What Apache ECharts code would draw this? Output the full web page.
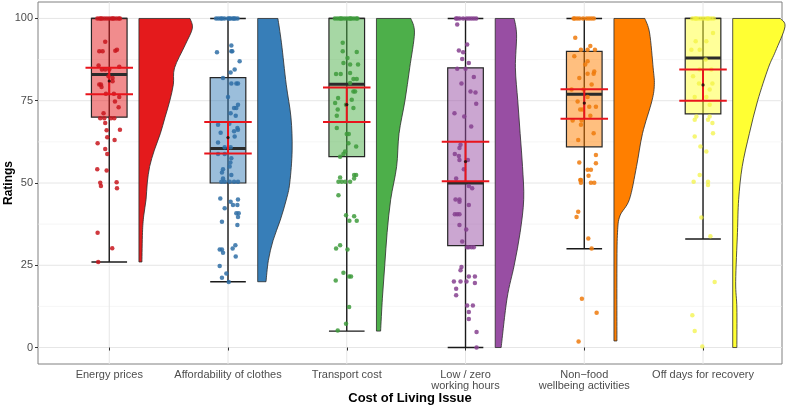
<!DOCTYPE html>
<html>
<head>
<meta charset="utf-8">
<script src="https://cdn.jsdelivr.net/npm/echarts@6/dist/echarts.min.js"></script>
<style>
  html, body { margin: 0; padding: 0; background: #fff; }
  #chart { width: 788px; height: 405px; }
</style>
</head>
<body>
<div id="chart"></div>
<script>
// ---- data ----
const categories = [
  "Energy prices",
  "Affordability of clothes",
  "Transport cost",
  "Low / zero\nworking hours",
  "Non\u2212food\nwellbeing activities",
  "Off days for recovery"
];
const colors = ["#E41A1C", "#377EB8", "#4DAF4A", "#984EA3", "#FF7F00", "#FFFF33"];
const pointColors = ["#C8161D", "#2F6FA6", "#3E9B3C", "#86418F", "#EE7A0C", "#F2F23A"];

const yTicks = [0, 25, 50, 75, 100];
const yMinor = [12.5, 37.5, 62.5, 87.5];

// [min whisker, Q1, median, Q3, max whisker]
const boxStats = [
  [26, 70, 83, 100, 100],
  [20, 50, 60.5, 82, 100],
  [5, 58, 80, 100, 100],
  [0, 31, 50, 85, 100],
  [30, 61, 77, 90, 100],
  [33, 71, 88, 100, 100]
];

// [lower CI, mean, upper CI]
const meanCI = [
  [77, 81, 85],
  [59, 63.8, 68.5],
  [68.5, 73.8, 79],
  [50.5, 56.5, 62.5],
  [69.5, 74.3, 78.5],
  [75, 79.8, 84.5]
];

// half-violin widths: [rating, width in category units]
const violins = [
  [[100,0.43],[97,0.45],[92,0.39],[85,0.30],[80,0.29],[75,0.26],[70,0.22],[65,0.18],[60,0.13],[55,0.09],[50,0.07],[45,0.06],[40,0.04],[35,0.03],[26,0.025]],
  [[100,0.17],[92.6,0.20],[80,0.24],[70,0.28],[60,0.29],[50,0.27],[44.8,0.24],[38.7,0.19],[32.6,0.13],[26.5,0.09],[20,0.07]],
  [[100,0.29],[95.6,0.32],[85,0.28],[75,0.24],[65,0.19],[55,0.17],[45,0.12],[35,0.09],[25,0.07],[15,0.05],[5,0.035]],
  [[100,0.16],[95,0.18],[85,0.17],[75,0.19],[65,0.21],[55,0.23],[45,0.24],[35,0.21],[25,0.16],[15,0.10],[0,0.05]],
  [[100,0.26],[95.6,0.30],[85,0.33],[80,0.34],[75,0.32],[65,0.24],[55,0.19],[45,0.13],[40,0.05],[35,0.03],[25,0.025],[2,0.025]],
  [[100,0.40],[97.5,0.44],[90,0.36],[85,0.30],[75,0.21],[65,0.14],[55,0.08],[45,0.05],[35,0.04],[20,0.025],[12,0.035],[0,0.035]]
];

// jittered responses: [horizontal jitter in category units, rating]
const points1 = [
  [-0.10,100],[-0.08,100],[-0.06,100],[-0.04,100],[-0.02,100],[0,100],[0.02,100],[0.04,100],[0.06,100],[0.08,100],[-0.07,100],[0.03,100],[0.09,100],
  [-0.034,92.9],[-0.084,90.0],[-0.056,90.0],[0.051,90.2],[0.065,90.5],[-0.090,85.7],[-0.062,84.5],[-0.034,84.5],[0,84.5],[0.084,85.3],
  [-0.006,82.4],[0.028,81.9],[0.028,80.9],[-0.084,79.9],[-0.070,79.9],[-0.065,79.2],[-0.028,77.1],[0.039,77.1],[0.084,76.1],[0.048,74.8],
  [0.079,73.0],[-0.048,71.2],[-0.076,69.7],[-0.042,69.7],[0.014,69.7],[0.042,69.7],[-0.034,68.2],[-0.022,66.0],[0.090,66.2],[-0.017,63.9],
  [0.045,63.1],[-0.098,62.1],[-0.034,60.3],[-0.017,58.8],[-0.101,54.2],[-0.022,53.8],[-0.076,50.1],[-0.070,49.1],[0.062,50.2],[0.065,48.4],
  [-0.098,34.9],[0.025,30.2],[-0.093,26.0]
];
const points2 = [
  [-0.10,100],[-0.08,100],[-0.06,100],[-0.03,100],[0,100],[0.02,100],[0.04,100],[0.06,100],[0.08,100],[-0.05,100],[0.01,100],[0.05,100],
  [0.028,91.8],[0.028,90.0],[0.036,90.0],[-0.093,89.7],[0.098,87.0],[0.056,84.5],[0.022,83.6],[-0.042,81.9],[0.028,80.2],[0.070,80.2],
  [0.084,80.2],[0,76.1],[0.084,73.8],[0.051,72.8],[0.070,72.8],[0.022,71.2],[0.065,70.4],[-0.084,67.7],[0.011,68.0],[0.079,66.7],
  [0.084,66.2],[-0.062,65.3],[0.051,65.7],[0.056,64.1],[-0.084,62.3],[-0.028,60.9],[0.022,60.9],[-0.084,58.8],[-0.028,58.8],[0.028,57.5],
  [0.020,56.2],[0.014,55.0],[-0.042,54.2],[-0.051,53.2],[0.028,52.4],[-0.042,51.4],[-0.056,50.4],[-0.028,50.4],[0.014,50.4],[0.051,50.4],
  [0.084,50.4],[-0.065,45.3],[0.084,45.0],[0.022,44.3],[0.042,43.3],[0.079,43.3],[-0.028,42.3],[0.070,40.8],[0.090,40.8],[0.084,39.7],
  [-0.051,38.2],[0.079,37.2],[-0.070,29.8],[-0.051,29.8],[-0.042,28.8],[0.039,30.1],[0.062,31.1],[0.065,27.7],[-0.070,24.8],[-0.014,22.5],
  [-0.051,21.2],[0.006,19.9]
];
const points3 = [
  [-0.10,100],[-0.08,100],[-0.06,100],[-0.04,100],[-0.02,100],[0,100],[0.02,100],[0.04,100],[0.06,100],[0.08,100],[-0.05,100],[0.03,100],[0.09,100],
  [-0.034,92.6],[-0.034,90.0],[0.084,89.8],[0.006,88.0],[-0.028,86.5],[0.028,86.0],[0.095,86.0],[0.028,83.4],[-0.090,83.1],[-0.051,83.1],
  [0.056,81.6],[0.084,81.6],[0.028,80.4],[0.056,77.8],[0.070,77.8],[-0.073,75.8],[0.042,75.3],[-0.098,74.3],[-0.006,73.8],[0.056,72.8],
  [-0.076,72.3],[-0.084,70.4],[-0.084,66.7],[0.017,64.9],[0,64.9],[0.014,62.1],[0.079,61.1],[-0.014,59.6],[-0.028,58.8],[-0.056,58.0],
  [0.062,52.4],[0.079,52.4],[-0.056,51.7],[0.062,51.4],[-0.070,50.4],[-0.042,50.4],[-0.014,50.4],[0.028,50.4],[-0.070,46.3],[-0.006,40.2],
  [0.062,39.9],[0.022,38.5],[0.084,38.5],[-0.056,31.1],[-0.090,30.1],[0.006,29.8],[-0.028,22.7],[0.020,21.6],[0.036,21.6],[-0.093,20.4],
  [0.020,12.3],[-0.006,7.2],[-0.076,5.2]
];
const points4 = [
  [-0.08,100],[-0.05,100],[-0.02,100],[0.01,100],[0.03,100],[0.05,100],[0.07,100],[0.09,100],[-0.07,100],
  [-0.070,98.2],[0.014,92.1],[-0.056,90.3],[-0.020,89.7],[-0.028,87.7],[0.028,86.5],[-0.070,84.7],[0,84.7],[0.070,82.2],[-0.034,80.2],
  [0.042,77.8],[0.084,77.5],[0.090,74.1],[-0.093,71.2],[-0.011,70.2],[0.048,67.2],[-0.042,61.6],[-0.051,60.6],[-0.090,58.8],[-0.056,58.2],
  [-0.051,57.0],[0.020,57.0],[-0.014,54.2],[-0.079,51.4],[0.028,49.1],[0.056,48.4],[-0.084,45.0],[-0.051,45.0],[-0.051,44.3],[0.028,43.3],
  [-0.090,40.5],[-0.070,40.5],[-0.051,40.5],[-0.051,37.2],[0.006,35.9],[-0.028,32.2],[0.014,30.5],[0.028,30.5],[0.051,30.5],[0.070,30.5],
  [-0.034,24.5],[-0.042,23.5],[0.028,21.6],[0.079,21.6],[-0.098,20.1],[-0.042,20.1],[0.008,20.1],[0.079,19.6],[-0.079,17.9],[-0.079,15.9],
  [0.014,12.8],[0.062,12.8],[0.028,10.8],[0.028,8.7],[0.093,4.7],[0.093,0]
];
const points5 = [
  [-0.08,100],[-0.06,100],[-0.04,100],[-0.01,100],[0.02,100],[0.04,100],[0.06,100],[0.08,100],[-0.09,100],
  [-0.076,94.1],[0.051,91.6],[-0.028,90.5],[0.028,90.5],[0.090,90.5],[-0.084,88.5],[0.028,87.0],[0.008,86.0],[0.084,83.9],[0.028,83.2],
  [0.079,83.2],[-0.042,81.9],[0.062,79.9],[-0.107,78.4],[-0.006,78.4],[0.028,76.1],[-0.056,74.8],[0.042,73.2],[0.098,73.2],[-0.034,72.3],
  [-0.014,72.3],[0.051,70.4],[-0.098,69.0],[-0.022,69.0],[-0.028,67.7],[0.079,65.1],[-0.051,63.1],[0.098,58.5],[-0.042,56.2],[0.098,56.0],
  [0.028,54.0],[0.056,54.0],[0.036,52.2],[-0.034,50.9],[-0.028,50.9],[-0.028,50.1],[0.056,50.1],[0.084,50.1],[-0.051,41.3],[-0.065,39.7],
  [0.034,33.1],[0.062,30.1],[-0.020,14.8],[0.104,10.6],[-0.048,1.8]
];
const points6 = [
  [-0.09,100],[-0.07,100],[-0.05,100],[-0.03,100],[-0.01,100],[0.01,100],[0.03,100],[0.05,100],[0.07,100],[0.09,100],[-0.06,100],[0.04,100],
  [0.084,95.6],[-0.062,93.1],[0.028,93.1],[-0.098,90.5],[-0.028,90.5],[0.022,87.5],[-0.028,84.5],[0.070,84.5],[-0.084,82.4],[-0.034,80.2],
  [0.079,80.2],[0.056,78.4],[-0.070,76.1],[0.028,76.1],[0.056,73.8],[-0.056,70.2],[0.056,70.2],[-0.070,69.2],[0.042,69.2],[0.079,68.2],
  [0.084,65.1],[-0.070,64.1],[-0.022,61.1],[0.028,59.6],[-0.028,52.4],[-0.079,50.4],[0.042,50.4],[0.042,49.4],[-0.014,39.5],[0.062,33.8],
  [0.098,19.9],[-0.090,9.8],[-0.070,5.0],[-0.006,0.3]
];
const pointSets = [points1, points2, points3, points4, points5, points6];

// ---- layout constants (category units) ----
const BOX_HALF = 0.15;
const CI_HALF = 0.2;
const VIOLIN_OFFSET = 0.25;

const catValues = categories.map((c, i) => i + 1);

const chart = echarts.init(document.getElementById("chart"), null, { renderer: "canvas" });

// grid lines drawn from the tick arrays
function renderGridLines(params, api) {
  const cs = params.coordSys;
  const children = [];
  yMinor.forEach(v => {
    const y = api.coord([1, v])[1];
    children.push({ type: "line", shape: { x1: cs.x, y1: y, x2: cs.x + cs.width, y2: y },
      style: { stroke: "#F0F0F0", lineWidth: 0.6 } });
  });
  yTicks.forEach(v => {
    const y = api.coord([1, v])[1];
    children.push({ type: "line", shape: { x1: cs.x, y1: y, x2: cs.x + cs.width, y2: y },
      style: { stroke: "#E6E6E6", lineWidth: 1 } });
  });
  catValues.forEach(c => {
    const x = api.coord([c, 0])[0];
    children.push({ type: "line", shape: { x1: x, y1: cs.y, x2: x, y2: cs.y + cs.height },
      style: { stroke: "#E6E6E6", lineWidth: 1 } });
  });
  return { type: "group", children };
}

// smooth half violin, flat edge on the left
function renderViolin(params, api) {
  const i = params.dataIndex;
  const c = i + 1;
  const lv = violins[i];
  const x0 = c + VIOLIN_OFFSET;
  const top = api.coord([x0, lv[0][0]]);
  const bot = api.coord([x0, lv[lv.length - 1][0]]);
  const pts = lv.map(([v, w]) => api.coord([x0 + w, v]));
  let d = `M${top[0]},${top[1]} L${pts[0][0]},${pts[0][1]}`;
  for (let k = 0; k < pts.length - 1; k++) {
    const p0 = pts[Math.max(k - 1, 0)], p1 = pts[k], p2 = pts[k + 1], p3 = pts[Math.min(k + 2, pts.length - 1)];
    const c1x = p1[0] + (p2[0] - p0[0]) / 6, c1y = p1[1] + (p2[1] - p0[1]) / 6;
    const c2x = p2[0] - (p3[0] - p1[0]) / 6, c2y = p2[1] - (p3[1] - p1[1]) / 6;
    d += ` C${c1x},${c1y} ${c2x},${c2y} ${p2[0]},${p2[1]}`;
  }
  d += ` L${bot[0]},${bot[1]} Z`;
  return {
    type: "path",
    shape: { pathData: d },
    style: { fill: colors[i], stroke: "#2b2b2b", lineWidth: 0.8 }
  };
}

function renderWhisker(params, api) {
  const i = params.dataIndex;
  const c = i + 1;
  const [lo, , , , hi] = boxStats[i];
  const a = api.coord([c, hi]), b = api.coord([c, lo]);
  const capL = api.coord([c - BOX_HALF, lo]), capR = api.coord([c + BOX_HALF, lo]);
  const capL2 = api.coord([c - BOX_HALF, hi]), capR2 = api.coord([c + BOX_HALF, hi]);
  const st = { stroke: "#1a1a1a", lineWidth: 1.4 };
  return { type: "group", children: [
    { type: "line", shape: { x1: a[0], y1: a[1], x2: b[0], y2: b[1] }, style: st },
    { type: "line", shape: { x1: capL[0], y1: capL[1], x2: capR[0], y2: capR[1] }, style: st },
    { type: "line", shape: { x1: capL2[0], y1: capL2[1], x2: capR2[0], y2: capR2[1] }, style: st }
  ] };
}

function renderBox(params, api) {
  const i = params.dataIndex;
  const c = i + 1;
  const [, q1, med, q3] = boxStats[i];
  const tl = api.coord([c - BOX_HALF, q3]);
  const br = api.coord([c + BOX_HALF, q1]);
  const ml = api.coord([c - BOX_HALF, med]), mr = api.coord([c + BOX_HALF, med]);
  return { type: "group", children: [
    { type: "rect", shape: { x: tl[0], y: tl[1], width: br[0] - tl[0], height: br[1] - tl[1] },
      style: { fill: colors[i], opacity: 0.5 } },
    { type: "rect", shape: { x: tl[0], y: tl[1], width: br[0] - tl[0], height: br[1] - tl[1] },
      style: { fill: "none", stroke: "#262626", lineWidth: 1.2 } },
    { type: "line", shape: { x1: ml[0], y1: ml[1], x2: mr[0], y2: mr[1] },
      style: { stroke: "#2b2b2b", lineWidth: 3 } }
  ] };
}

function renderCI(params, api) {
  const i = params.dataIndex;
  const c = i + 1;
  const [lo, mean, hi] = meanCI[i];
  const st = { stroke: "#E8141C", lineWidth: 2 };
  const l1 = api.coord([c - CI_HALF, lo]), r1 = api.coord([c + CI_HALF, lo]);
  const l2 = api.coord([c - CI_HALF, hi]), r2 = api.coord([c + CI_HALF, hi]);
  const m = api.coord([c, mean]);
  return { type: "group", children: [
    { type: "line", shape: { x1: m[0], y1: l1[1], x2: m[0], y2: l2[1] }, style: st },
    { type: "line", shape: { x1: l1[0], y1: l1[1], x2: r1[0], y2: r1[1] }, style: st },
    { type: "line", shape: { x1: l2[0], y1: l2[1], x2: r2[0], y2: r2[1] }, style: st },
    { type: "circle", shape: { cx: m[0], cy: m[1], r: 1.6 }, style: { fill: "#3a1010" } }
  ] };
}

const catData = catValues.map(c => [c, 50]);

const series = [
  { type: "custom", name: "grid", renderItem: renderGridLines, data: [[1, 50]], z: 0, silent: true },
  { type: "custom", name: "violin", renderItem: renderViolin, data: catData, z: 1, silent: true },
  { type: "custom", name: "whisker", renderItem: renderWhisker, data: catData, z: 2, silent: true },
  { type: "custom", name: "box", renderItem: renderBox, data: catData, z: 3, silent: true }
];
pointSets.forEach((pts, i) => {
  series.push({
    type: "scatter",
    name: categories[i],
    data: pts.map(([j, v]) => [i + 1 + j, v]),
    symbolSize: 4.5,
    itemStyle: { color: pointColors[i], opacity: i === 5 ? 0.7 : 0.85 },
    z: 4,
    silent: true
  });
});
series.push({ type: "custom", name: "ci", renderItem: renderCI, data: catData, z: 5, silent: true });

const option = {
  animation: false,
  backgroundColor: "#fff",
  textStyle: { fontFamily: "Liberation Sans, Arial, sans-serif" },
  grid: {
    left: 38, right: 6, top: 2, bottom: 41,
    outerBoundsMode: "none",
    show: true, borderColor: "#808080", borderWidth: 1, backgroundColor: "transparent"
  },
  xAxis: {
    type: "value",
    min: 0.4,
    max: 6.665,
    name: "Cost of Living Issue",
    nameLocation: "middle",
    nameGap: 28,
    nameMoveOverlap: false,
    nameTextStyle: { fontSize: 13, fontWeight: "bold", color: "#000" },
    axisLine: { show: false },
    axisTick: { show: true, customValues: catValues, length: 3, lineStyle: { color: "#333" } },
    axisLabel: {
      customValues: catValues,
      formatter: v => categories[Math.round(v) - 1] || "",
      color: "#4D4D4D", fontSize: 11, margin: 5, lineHeight: 11
    },
    splitLine: { show: false }
  },
  yAxis: {
    type: "value",
    min: -5,
    max: 105,
    name: "Ratings",
    nameLocation: "middle",
    nameGap: 23,
    nameMoveOverlap: false,
    nameTextStyle: { fontSize: 12, fontWeight: "bold", color: "#000" },
    axisLine: { show: false },
    axisTick: { show: true, customValues: yTicks, length: 3, lineStyle: { color: "#333" } },
    axisLabel: { customValues: yTicks, color: "#4D4D4D", fontSize: 11, margin: 5 },
    splitLine: { show: false }
  },
  series
};

chart.setOption(option);
</script>
</body>
</html>
